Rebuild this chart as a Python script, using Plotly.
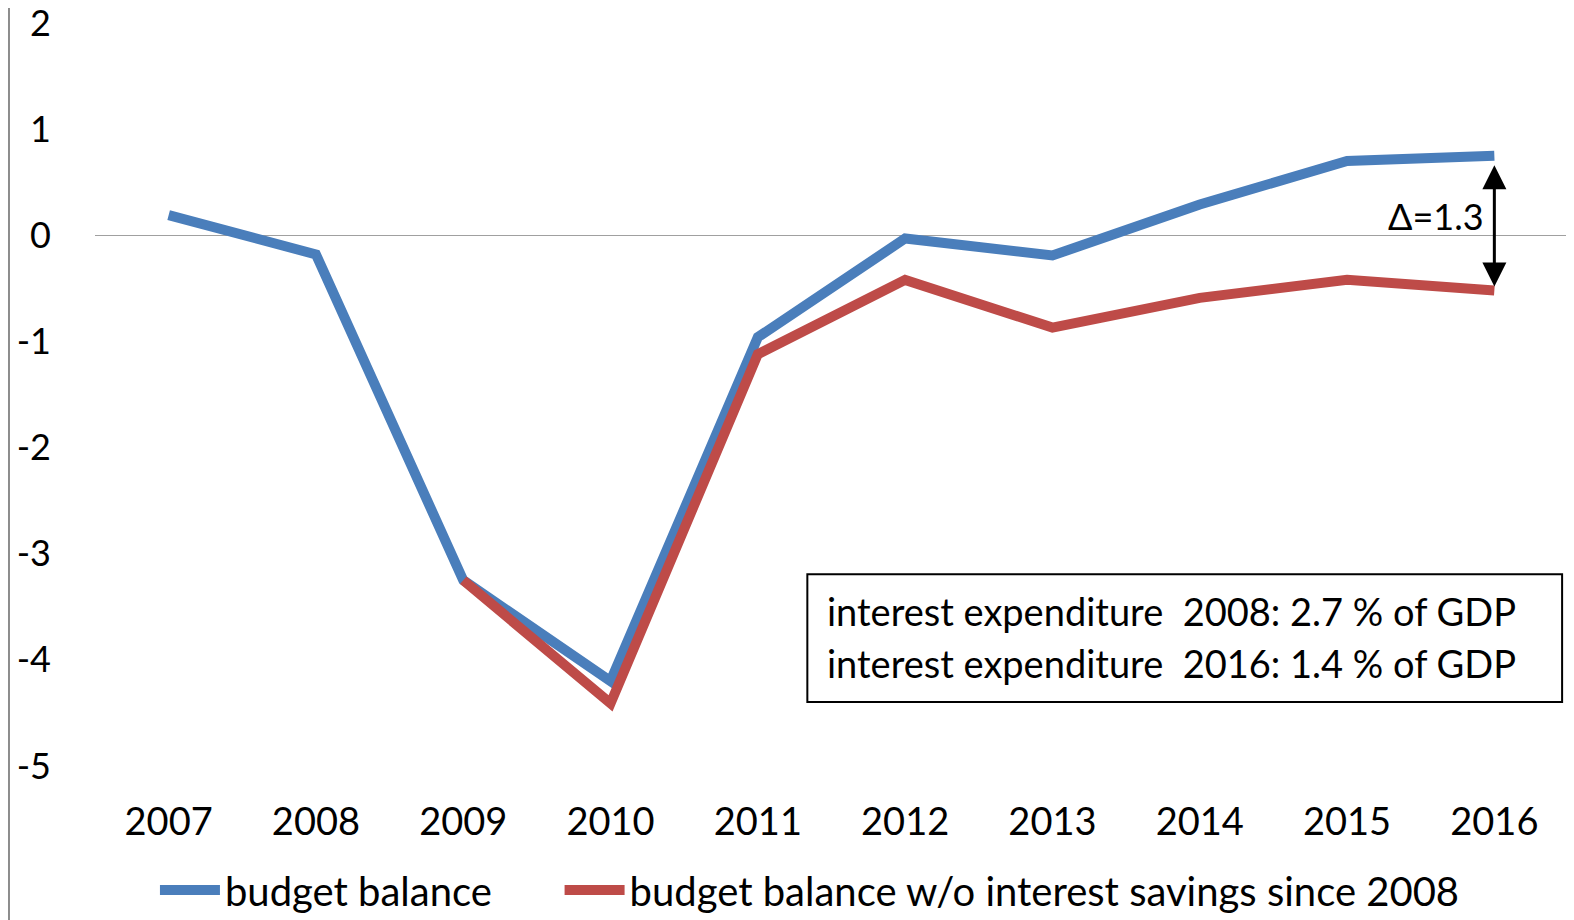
import plotly.graph_objects as go

years = [2007, 2008, 2009, 2010, 2011, 2012, 2013, 2014, 2015, 2016]
budget_balance = [0.19, -0.18, -3.25, -4.2, -0.96, -0.03, -0.19, 0.29, 0.70, 0.75]
balance_wo_savings = [None, None, -3.25, -4.41, -1.12, -0.42, -0.87, -0.59, -0.42, -0.52]
y_ticks = [2, 1, 0, -1, -2, -3, -4, -5]
y_tick_labels = ["2", "1", "0", "-1", "-2", "-3", "-4", "-5"]
box_lines = ["interest expenditure  2008: 2.7 % of GDP", "interest expenditure  2016: 1.4 % of GDP"]
delta_label = "Δ=1.3"

FONT = "Lato"
BLUE = "#4A7EBB"
RED = "#BE4B48"

fig = go.Figure()
fig.add_trace(go.Scatter(x=years, y=budget_balance, mode="lines", name="budget balance",
                         line=dict(color=BLUE, width=10), legend="legend"))
fig.add_trace(go.Scatter(x=years, y=balance_wo_savings, mode="lines",
                         name="budget balance w/o interest savings since 2008",
                         line=dict(color=RED, width=10), legend="legend2"))

# double arrow showing the gap in the last year
fig.add_annotation(x=years[-1], y=balance_wo_savings[-1], ax=years[-1], ay=budget_balance[-1],
                   xref="x", yref="y", axref="x", ayref="y", text="", showarrow=True,
                   arrowhead=2, startarrowhead=2, arrowside="end+start", arrowwidth=3,
                   arrowsize=1.6, arrowcolor="black", standoff=4, startstandoff=8)
fig.add_annotation(x=0.9105, y=0.18, xref="paper", yref="y", xanchor="center", text=delta_label,
                   showarrow=False, font=dict(family=FONT, size=36, color="black"))

# info box
fig.add_shape(type="rect", xref="paper", yref="paper", x0=0.4836, x1=0.996, y0=0.086, y1=0.258,
              line=dict(color="black", width=2), fillcolor="white", layer="above")
for i, txt in enumerate(box_lines):
    fig.add_annotation(x=0.4955, y=0.209 - i * 0.07, xref="paper", yref="paper", text=txt,
                       showarrow=False, xanchor="left", yanchor="middle",
                       font=dict(family=FONT, size=38, color="black"))

# left border line of the chart
fig.add_shape(type="line", xref="paper", yref="paper", x0=-0.0584, x1=-0.0584, y0=-0.25, y1=1.05,
              line=dict(color="#8c8c8c", width=2))

legend_style = dict(orientation="h", yref="container", y=0.033, yanchor="middle",
                    xanchor="left", font=dict(family=FONT, size=40), itemwidth=60,
                    bgcolor="rgba(0,0,0,0)")
fig.update_layout(
    width=1566, height=912,
    margin=dict(l=87, r=6, t=15, b=154, autoexpand=False),
    paper_bgcolor="white", plot_bgcolor="white",
    font=dict(family=FONT, size=38, color="black"),
    showlegend=True,
    legend=dict(x=0.0407, **legend_style),
    legend2=dict(x=0.3154, **legend_style),
)
fig.update_xaxes(range=[2006.5, 2016.5], tickvals=years, showgrid=False, showline=False,
                 zeroline=False, ticks="", ticklabelstandoff=30, automargin=False)
fig.update_yaxes(range=[-5, 2], tickvals=y_ticks, ticktext=y_tick_labels, showgrid=False,
                 showline=False, zeroline=True, zerolinecolor="#a0a0a0", zerolinewidth=1,
                 ticks="", ticklabelstandoff=43, automargin=False, ticklabeloverflow="allow",
                 tickfont=dict(size=36))

fig.write_html("out.html")
